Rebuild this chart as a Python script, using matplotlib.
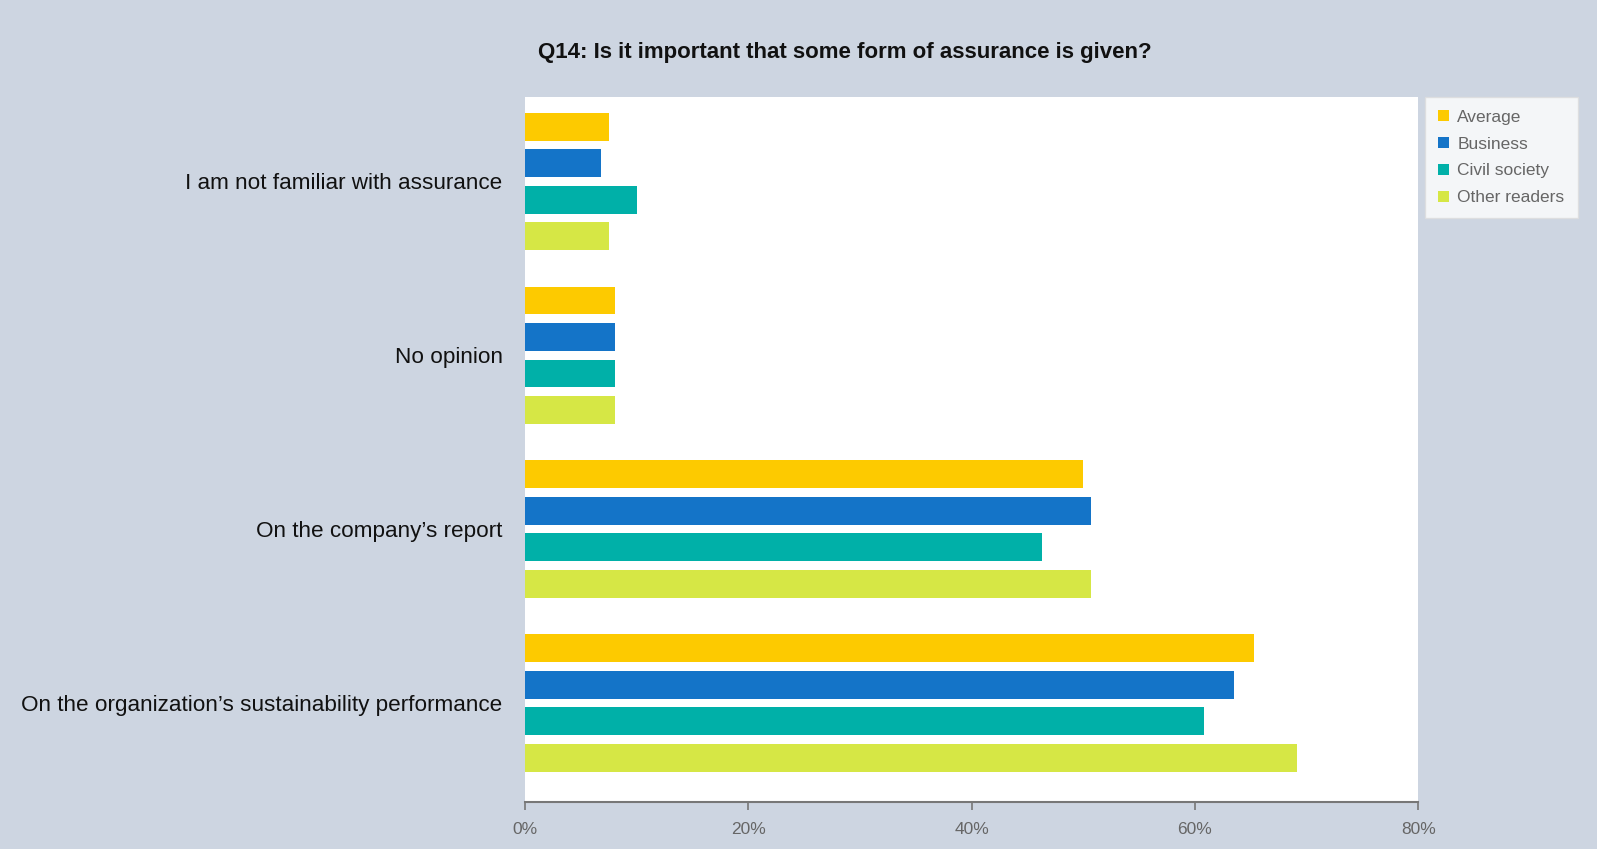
import numpy as np
import matplotlib.pyplot as plt

categories = ["I am not familiar with assurance", "No opinion",
              "On the company\u2019s report",
              "On the organization\u2019s sustainability performance"]
series = ["Average", "Business", "Civil society", "Other readers"]
average = [7.5, 8.1, 50.0, 65.3]
business = [6.8, 8.1, 50.7, 63.5]
civil = [10.0, 8.1, 46.3, 60.8]
other = [7.5, 8.1, 50.7, 69.1]
xticks = [0, 20, 40, 60, 80]
colors = ["#fdca00", "#1474c8", "#00b0a8", "#d6e745"]

bg = "#cdd5e1"
plt.rcParams['font.family'] = ['Liberation Sans', 'DejaVu Sans']

fig = plt.figure(figsize=(15.97, 8.49), dpi=100, facecolor=bg)
ax = fig.add_axes([0.3287, 0.0548, 0.5594, 0.8309])
ax.set_facecolor("white")

y = np.arange(len(categories))
step = 0.21
height = 0.16
for i, (name, vals) in enumerate(zip(series, [average, business, civil, other])):
    ax.barh(y + (i - 1.5) * step, vals, height=height, color=colors[i], label=name)

ax.set_xlim(0, 80)
ax.set_ylim(3.573, -0.485)
ax.set_yticks(y)
ax.set_yticklabels(categories, fontsize=16.2, color="#111111")
ax.tick_params(axis='y', length=0, pad=16)
ax.set_xticks(xticks)
ax.set_xticklabels([f"{t}%" for t in xticks], fontsize=12.5, color="#666666")
ax.tick_params(axis='x', length=6, color="#777777", width=1.2, pad=8)

for s in ["top", "right", "left"]:
    ax.spines[s].set_visible(False)
ax.spines["bottom"].set_color("#777777")
ax.spines["bottom"].set_linewidth(1.5)

fig.text(0.529, 0.938, "Q14: Is it important that some form of assurance is given?",
         ha="center", va="center", fontsize=16, fontweight="bold", color="#111111")

leg = fig.legend(loc="upper left", bbox_to_anchor=(0.8925, 0.886), fontsize=12.5,
                 frameon=True, handlelength=0.6, handleheight=0.6, handletextpad=0.5,
                 labelspacing=0.68, borderpad=0.75, borderaxespad=0, labelcolor="#666666")
leg.get_frame().set_facecolor("white")
leg.get_frame().set_edgecolor("#dddddd")
leg.get_frame().set_boxstyle("square", pad=0)

fig.savefig("out.png", dpi=100, facecolor=bg)
